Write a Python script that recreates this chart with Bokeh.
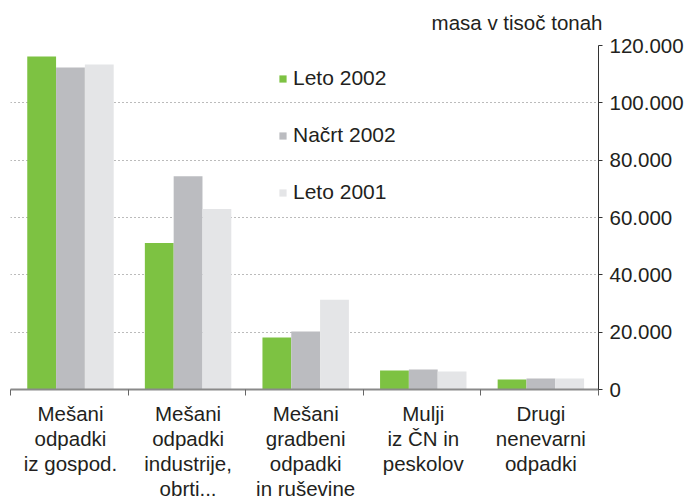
from bokeh.plotting import figure
from bokeh.models import Range1d, FixedTicker
from bokeh.embed import file_html
from bokeh.resources import INLINE

categories = [
    "Mešani\nodpadki\niz gospod.",
    "Mešani\nodpadki\nindustrije,\nobrti...",
    "Mešani\ngradbeni\nodpadki\nin ruševine",
    "Mulji\niz ČN in\npeskolov",
    "Drugi\nnenevarni\nodpadki",
]
series_names = ["Leto 2002", "Načrt 2002", "Leto 2001"]
leto_2002 = [116200, 51100, 18100, 6600, 3500]
nacrt_2002 = [112300, 74400, 20200, 7000, 3800]
leto_2001 = [113400, 63000, 31300, 6300, 3800]
y_ticks = [0, 20000, 40000, 60000, 80000, 100000, 120000]
y_tick_labels = ["0", "20.000", "40.000", "60.000", "80.000", "100.000", "120.000"]
y_title = "masa v tisoč tonah"

colors = ["#7dc242", "#bbbcc0", "#e4e5e7"]
FONT = "Liberation Sans"
TXT = "#231f20"

n = len(categories)
p = figure(width=690, height=502, x_range=Range1d(0, n), y_range=Range1d(0, 120000),
           output_backend="svg", toolbar_location=None, y_axis_location="right",
           min_border_left=10, min_border_right=92, min_border_top=45, min_border_bottom=112,
           title=y_title)

bw = 0.245
centers = [i + 0.51 for i in range(n)]
for k, (name, vals) in enumerate(zip(series_names, [leto_2002, nacrt_2002, leto_2001])):
    xs = [c + (k - 1) * bw for c in centers]
    p.vbar(x=xs, top=vals, width=bw, bottom=0, fill_color=colors[k], line_color=None,
           legend_label=name)

p.outline_line_color = None
p.background_fill_color = "white"
p.border_fill_color = "white"

# title
p.title.align = "right"
p.title.vertical_align = "top"
p.title.text_font = FONT
p.title.text_font_size = "20.5px"
p.title.text_font_style = "normal"
p.title.text_color = TXT
p.title.standoff = 19
p.title.offset = -4

# x axis
xax = p.xaxis[0]
xax.ticker = FixedTicker(ticks=centers, minor_ticks=list(range(n + 1)))
xax.major_label_overrides = {c: lab for c, lab in zip(centers, categories)}
xax.major_tick_out = 0
xax.major_tick_in = 0
xax.minor_tick_out = 6
xax.minor_tick_in = 0
xax.minor_tick_line_color = "#666666"
xax.axis_line_color = "#8a8a8a"
xax.axis_line_width = 2
xax.major_label_text_font = FONT
xax.major_label_text_font_size = "20.5px"
xax.major_label_text_color = TXT
xax.major_label_text_line_height = 1.09
xax.major_label_standoff = 6

# y axis
yax = p.yaxis[0]
yax.ticker = FixedTicker(ticks=y_ticks)
yax.major_label_overrides = {t: lab for t, lab in zip(y_ticks, y_tick_labels)}
yax.minor_tick_line_color = None
yax.major_tick_out = 4
yax.major_tick_in = 0
yax.major_tick_line_color = "#333333"
yax.axis_line_color = "#333333"
yax.major_label_text_font = FONT
yax.major_label_text_font_size = "20.5px"
yax.major_label_text_color = TXT
yax.major_label_standoff = 7

# grid
p.xgrid.visible = False
p.ygrid.ticker = FixedTicker(ticks=y_ticks)
p.ygrid.grid_line_color = "#777777"
p.ygrid.grid_line_dash = "1 3"
p.ygrid.grid_line_width = 1

# legend
lg = p.legend[0]
lg.location = (268, 185)
lg.orientation = "vertical"
lg.background_fill_alpha = 0
lg.border_line_color = None
lg.padding = 0
lg.margin = 0
lg.glyph_width = 9
lg.glyph_height = 9
lg.label_standoff = 6
lg.label_height = 20
lg.spacing = 33
lg.label_text_font = FONT
lg.label_text_font_size = "21px"
lg.label_text_color = TXT

open("out.html", "w").write(file_html(p, INLINE))
